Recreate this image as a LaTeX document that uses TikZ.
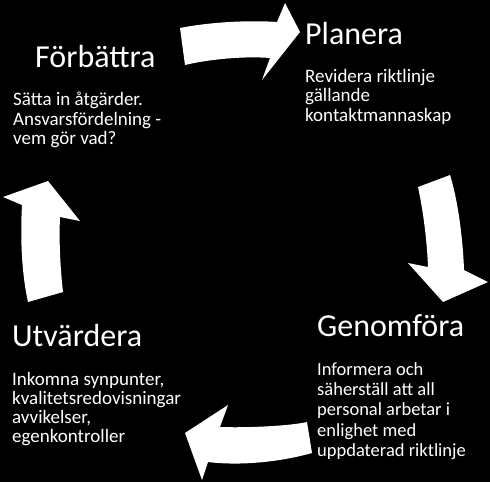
\documentclass[tikz,border=0pt]{standalone}
\usepackage{fontspec}
\setmainfont{Carlito}
\begin{document}
\begin{tikzpicture}[x=1pt,y=-1pt,
  arrowshape/.style={fill=white,draw=none},
  titletext/.style={font=\fontsize{32}{36}\selectfont,text=white,inner sep=0pt,anchor=base west},
  bodytext/.style={font=\fontsize{19}{19.5}\selectfont,text=white,inner sep=0pt,anchor=base west}]
\useasboundingbox (0,0) rectangle (490,482);
\fill[black] (0,0) rectangle (490,482);
% top arrow (Forbattra -> Planera)
\fill[arrowshape] (180,28) .. controls (210,22) and (250,20) .. (277,22)
  -- (285,3) -- (300,32) -- (262,80) -- (270,58)
  .. controls (245,56) and (210,59) .. (185,65) -- cycle;
% right arrow (Planera -> Genomfora)
\fill[arrowshape] (418,187) -- (450,175)
  .. controls (458,200) and (463,240) .. (464,270)
  -- (488,282) -- (443,302) -- (408,263) -- (428,267)
  .. controls (427,240) and (423,210) .. cycle;
% bottom arrow (Genomfora -> Utvardera)
\fill[arrowshape] (307,422) .. controls (290,426) and (245,428) .. (220,427)
  -- (228,405) -- (185,433) -- (202,480) -- (208,462)
  .. controls (240,466) and (280,462) .. (312,453) -- cycle;
% left arrow (Utvardera -> Forbattra)
\fill[arrowshape] (28,302) -- (63,292)
  .. controls (60,265) and (59,240) .. (60,217)
  -- (80,221) -- (48,181) -- (3,197) -- (22,205)
  .. controls (20,240) and (22,275) .. cycle;
% texts
\node[titletext] (t1) at (35,67) {Förbättra};
\node[bodytext] (b1) at (13,105.5) {\vtop{\hbox{Sätta in åtgärder.}\hbox{Ansvarsfördelning -}\hbox{vem gör vad?}}};
\node[titletext] (t2) at (305,44) {Planera};
\node[bodytext] (b2) at (305,82) {\vtop{\hbox{Revidera riktlinje}\hbox{gällande}\hbox{kontaktmannaskap}}};
\node[titletext] (t3) at (317,336) {Genomföra};
\node[bodytext,font=\fontsize{18.5}{20.4}\selectfont] (b3) at (317,375) {\vtop{\hbox{Informera och}\hbox{säherställ att all}\hbox{personal arbetar i}\hbox{enlighet med}\hbox{uppdaterad riktlinje}}};
\node[titletext] (t4) at (12,346) {Utvärdera};
\node[bodytext,font=\fontsize{19}{19.3}\selectfont] (b4) at (12,385) {\vtop{\hbox{Inkomna synpunter,}\hbox{kvalitetsredovisningar}\hbox{avvikelser,}\hbox{egenkontroller}}};
\end{tikzpicture}
\end{document}
